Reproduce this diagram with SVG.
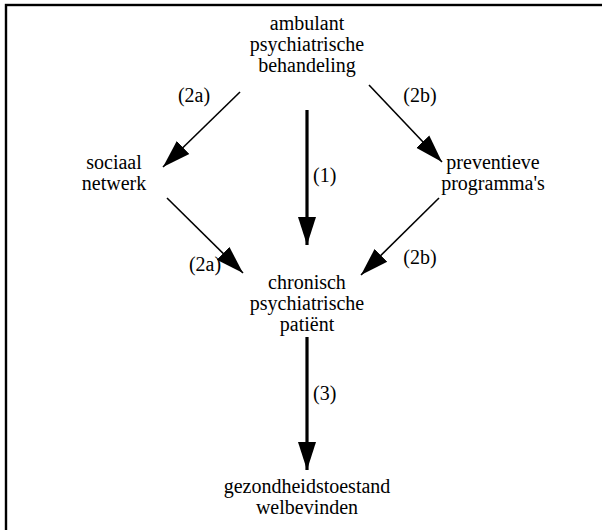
<svg xmlns="http://www.w3.org/2000/svg" width="602" height="530" viewBox="0 0 602 530">
<defs>
<style>
text{font-family:"Liberation Serif","DejaVu Serif",serif;font-size:20px;fill:#000}
.c{text-anchor:middle}
.thin{stroke:#000;stroke-width:1.6;fill:none}
.thick{stroke:#000;stroke-width:3.2;fill:none}
</style>
<marker id="ah" markerUnits="userSpaceOnUse" markerWidth="30" markerHeight="20" viewBox="0 0 30 20" refX="28" refY="10" orient="auto">
<path d="M0,1 L28,10 L0,19 Z" fill="#000"/>
</marker>
</defs>
<rect x="6" y="5" width="640" height="580" fill="none" stroke="#000" stroke-width="2.4"/>
<g id="n-ambulant">
<text class="c" x="307" y="30">ambulant</text>
<text class="c" x="307" y="51">psychiatrische</text>
<text class="c" x="307" y="72">behandeling</text>
</g>
<g id="n-sociaal">
<text class="c" x="114" y="169">sociaal</text>
<text class="c" x="114" y="190">netwerk</text>
</g>
<g id="n-preventieve">
<text class="c" x="493" y="169">preventieve</text>
<text class="c" x="493" y="190">programma's</text>
</g>
<g id="n-patient">
<text class="c" x="307" y="289">chronisch</text>
<text class="c" x="307" y="310">psychiatrische</text>
<text class="c" x="307" y="331">patiënt</text>
</g>
<g id="n-gezondheid">
<text class="c" x="307" y="493">gezondheidstoestand</text>
<text class="c" x="307" y="514">welbevinden</text>
</g>
<g id="connectors">
<line class="thin" x1="240" y1="92" x2="163" y2="167" marker-end="url(#ah)"/>
<line class="thin" x1="369" y1="85" x2="442" y2="162" marker-end="url(#ah)"/>
<line class="thick" x1="307" y1="110" x2="307" y2="245" marker-end="url(#ah)"/>
<line class="thin" x1="167" y1="198" x2="243" y2="273" marker-end="url(#ah)"/>
<line class="thin" x1="439" y1="198" x2="361" y2="275" marker-end="url(#ah)"/>
<line class="thick" x1="307" y1="337" x2="307" y2="470" marker-end="url(#ah)"/>
<text class="c" x="194" y="102">(2a)</text>
<text class="c" x="420" y="102">(2b)</text>
<text x="313" y="182">(1)</text>
<text class="c" x="205" y="271">(2a)</text>
<text class="c" x="420" y="264">(2b)</text>
<text x="313" y="400">(3)</text>
</g>
</svg>
